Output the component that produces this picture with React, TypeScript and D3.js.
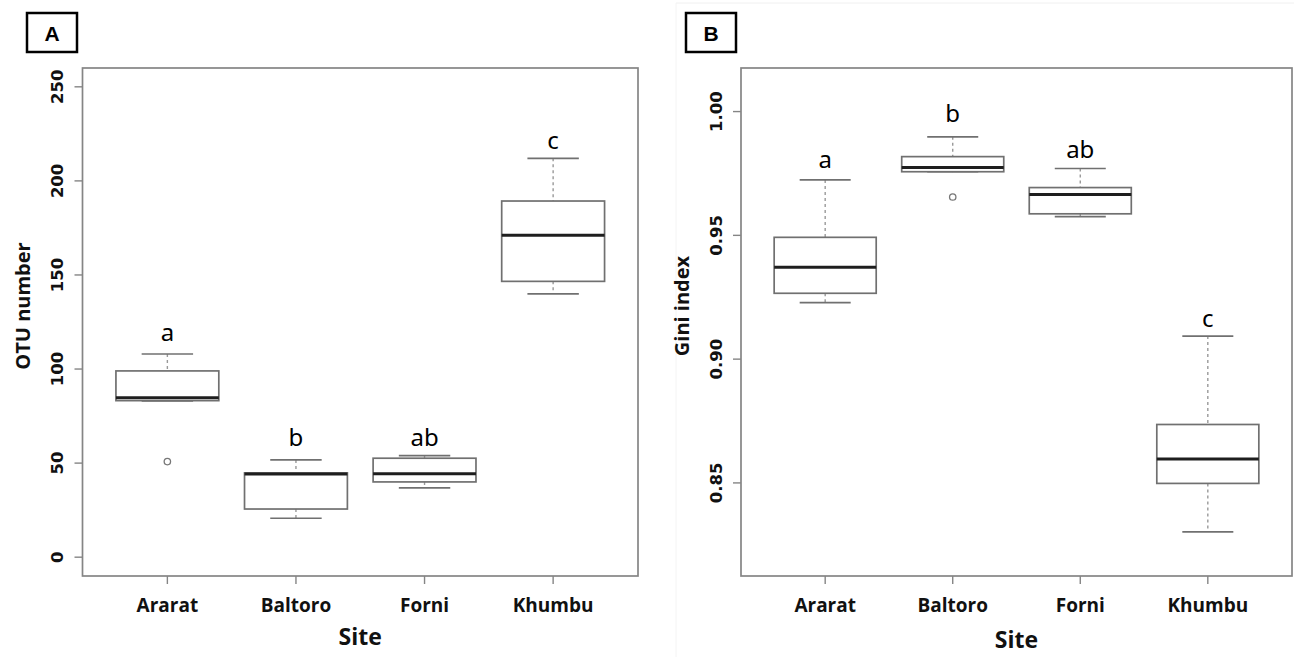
import React from "react";
import * as d3 from "d3";

const sites = ["Ararat", "Baltoro", "Forni", "Khumbu"];

// Panel A: OTU number
const otuMin = [83, 20.7, 36.8, 140];
const otuQ1 = [83.2, 25.6, 40.0, 146.6];
const otuMedian = [84.8, 44.2, 44.4, 171.1];
const otuQ3 = [99.0, 44.8, 52.6, 189.3];
const otuMax = [108, 51.7, 54.0, 212];
const otuOutliers = [[50.8], [], [], []];
const otuLetters = ["a", "b", "ab", "c"];
const otuLetterY = [120, 64, 64, 222];
const otuTicks = [0, 50, 100, 150, 200, 250];
const otuDomain = [-10, 260];

// Panel B: Gini index
const giniMin = [0.9228, 0.9757, 0.9576, 0.8302];
const giniQ1 = [0.9266, 0.9757, 0.9587, 0.8498];
const giniMedian = [0.9371, 0.9774, 0.9665, 0.8597];
const giniQ3 = [0.9492, 0.9818, 0.9693, 0.8736];
const giniMax = [0.9724, 0.9898, 0.977, 0.9093];
const giniOutliers = [[], [0.9655], [], []];
const giniLetters = ["a", "b", "ab", "c"];
const giniLetterY = [0.981, 0.9995, 0.985, 0.917];
const giniTicks = [0.85, 0.9, 0.95, 1.0];
const giniDomain = [0.8124, 1.0176];

type PanelProps = {
  left: number;
  right: number;
  top: number;
  bottom: number;
  domain: number[];
  ticks: number[];
  fmt: (v: number) => string;
  mins: number[];
  q1: number[];
  med: number[];
  q3: number[];
  maxs: number[];
  outliers: number[][];
  letters: string[];
  letterY: number[];
  yTitle: string;
  tag: string;
  tagX: number;
  siteY: number;
};

const GRAY = "#858585";
const BOXC = "#707070";

function Panel(p: PanelProps) {
  const x = d3.scaleLinear().domain([0.34, 4.66]).range([p.left, p.right]);
  const y = d3.scaleLinear().domain(p.domain).range([p.bottom, p.top]);
  const unit = x(2) - x(1);
  const hw = 0.4 * unit;
  const cw = 0.2 * unit;
  const cx = (p.left + p.right) / 2;
  return (
    <g>
      {/* tag box */}
      <rect x={p.tagX} y={13} width={50} height={39} fill="#fff" stroke="#000" strokeWidth={2.5} />
      <text
        x={p.tagX + 25}
        y={33}
        textAnchor="middle"
        dominantBaseline="central"
        fontFamily="'Liberation Sans', Arial, sans-serif"
        fontWeight="bold"
        fontSize={21}
      >
        {p.tag}
      </text>
      {/* frame */}
      <rect
        x={p.left}
        y={p.top}
        width={p.right - p.left}
        height={p.bottom - p.top}
        fill="none"
        stroke={GRAY}
        strokeWidth={1.7}
      />
      {/* y ticks */}
      {p.ticks.map((t) => (
        <g key={"yt" + t}>
          <line x1={p.left - 8} x2={p.left} y1={y(t)} y2={y(t)} stroke={GRAY} strokeWidth={1.4} />
          <text
            transform={`translate(${p.left - 25},${y(t)}) rotate(-90)`}
            textAnchor="middle"
            dominantBaseline="central"
            fontFamily="'DejaVu Sans', sans-serif"
            fontWeight="bold"
            fontSize={16.5}
            fill="#111"
          >
            {p.fmt(t)}
          </text>
        </g>
      ))}
      {/* x ticks and labels */}
      {sites.map((s, i) => (
        <g key={"xt" + s}>
          <line x1={x(i + 1)} x2={x(i + 1)} y1={p.bottom} y2={p.bottom + 8} stroke={GRAY} strokeWidth={1.4} />
          <text
            x={x(i + 1)}
            y={612}
            textAnchor="middle"
            fontFamily="'Open Sans', sans-serif"
            fontWeight="bold"
            fontSize={19}
            fill="#111"
          >
            {s}
          </text>
        </g>
      ))}
      {/* axis titles */}
      <text
        x={cx}
        y={p.siteY}
        textAnchor="middle"
        fontFamily="'Open Sans', sans-serif"
        fontWeight="bold"
        fontSize={23}
        fill="#111"
      >
        Site
      </text>
      <text
        transform={`translate(${p.left - 60},306) rotate(-90)`}
        textAnchor="middle"
        dominantBaseline="central"
        fontFamily="'Open Sans', sans-serif"
        fontWeight="bold"
        fontSize={20}
        fill="#111"
      >
        {p.yTitle}
      </text>
      {/* boxes */}
      {sites.map((s, i) => {
        const c = x(i + 1);
        return (
          <g key={"box" + s}>
            <line x1={c} x2={c} y1={y(p.maxs[i])} y2={y(p.q3[i])} stroke="#999" strokeWidth={1.4} strokeDasharray="3,3" />
            <line x1={c} x2={c} y1={y(p.q1[i])} y2={y(p.mins[i])} stroke="#999" strokeWidth={1.4} strokeDasharray="3,3" />
            <line x1={c - cw} x2={c + cw} y1={y(p.maxs[i])} y2={y(p.maxs[i])} stroke={BOXC} strokeWidth={1.7} />
            <line x1={c - cw} x2={c + cw} y1={y(p.mins[i])} y2={y(p.mins[i])} stroke={BOXC} strokeWidth={1.7} />
            <rect
              x={c - hw}
              y={y(p.q3[i])}
              width={2 * hw}
              height={Math.max(0.5, y(p.q1[i]) - y(p.q3[i]))}
              fill="#fff"
              stroke={BOXC}
              strokeWidth={1.7}
            />
            <line x1={c - hw} x2={c + hw} y1={y(p.med[i])} y2={y(p.med[i])} stroke="#1e1e1e" strokeWidth={3} />
            {p.outliers[i].map((o, k) => (
              <circle key={k} cx={c} cy={y(o)} r={3.2} fill="none" stroke="#777" strokeWidth={1.3} />
            ))}
            <text
              x={c}
              y={y(p.letterY[i])}
              textAnchor="middle"
              dominantBaseline="central"
              fontFamily="'Noto Sans', sans-serif"
              fontSize={24}
              fill="#000"
            >
              {p.letters[i]}
            </text>
          </g>
        );
      })}
    </g>
  );
}

export default function App() {
  return (
    <svg
      width={1294}
      height={657}
      style={{ position: "absolute", left: 0, top: 0, background: "#fff" }}
    >
      <rect x={0} y={0} width={1294} height={657} fill="#fff" />
      <line x1={676} x2={1294} y1={3} y2={3} stroke="#f0f0f0" strokeWidth={1} />
      <line x1={676} x2={676} y1={3} y2={657} stroke="#f4f4f4" strokeWidth={1} />
      <Panel
        left={82.5}
        right={638}
        top={68}
        bottom={576}
        domain={otuDomain}
        ticks={otuTicks}
        fmt={(v) => d3.format("d")(v)}
        mins={otuMin}
        q1={otuQ1}
        med={otuMedian}
        q3={otuQ3}
        maxs={otuMax}
        outliers={otuOutliers}
        letters={otuLetters}
        letterY={otuLetterY}
        yTitle="OTU number"
        tag="A"
        tagX={27}
        siteY={645}
      />
      <Panel
        left={741}
        right={1292}
        top={68}
        bottom={576}
        domain={giniDomain}
        ticks={giniTicks}
        fmt={(v) => d3.format(".2f")(v)}
        mins={giniMin}
        q1={giniQ1}
        med={giniMedian}
        q3={giniQ3}
        maxs={giniMax}
        outliers={giniOutliers}
        letters={giniLetters}
        letterY={giniLetterY}
        yTitle="Gini index"
        tag="B"
        tagX={686}
        siteY={648}
      />
    </svg>
  );
}
